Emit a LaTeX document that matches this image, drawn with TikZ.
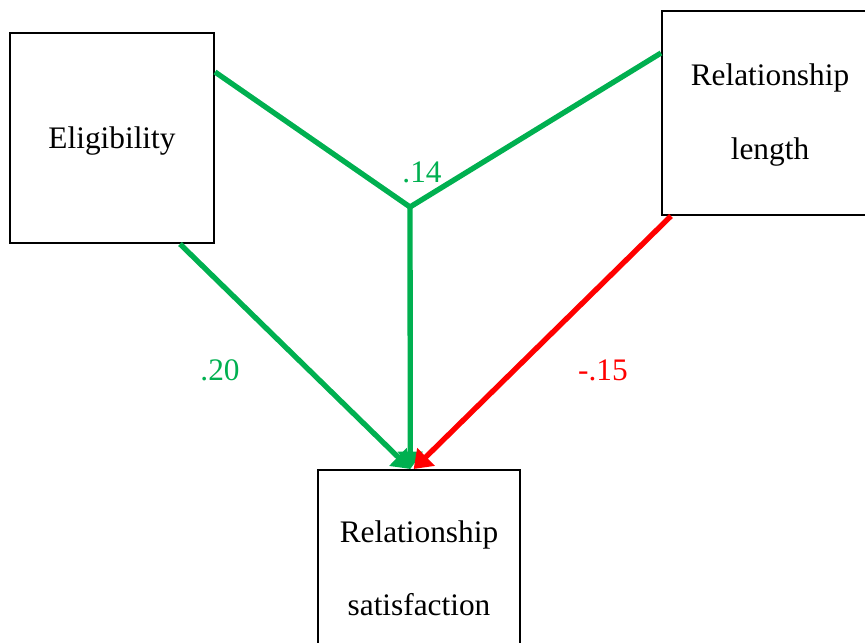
\documentclass[tikz,border=0pt]{standalone}
\usepackage{fontspec}
\setmainfont{Liberation Serif}
\usetikzlibrary{arrows.meta}
\definecolor{pathgreen}{RGB}{0,176,80}
\definecolor{pathred}{RGB}{255,0,0}
\newcommand{\shiftup}[2]{\raisebox{#1}[\height][\depth]{#2}}
\begin{document}
\begin{tikzpicture}[x=0.75pt,y=-0.75pt,
  varbox/.style={draw=black,line width=1.5pt,fill=white,inner sep=0pt,align=center,
    font=\fontsize{23.5}{55}\selectfont},
  path/.style={line width=4pt},
  arr/.style={path,-{Triangle[length=13pt,width=18pt]}},
  coef/.style={font=\fontsize{23.5}{28}\selectfont}]
\useasboundingbox (0,0) rectangle (865,643);
\node[varbox,minimum width=153pt,minimum height=157.5pt] (elig) at (112,138) {\shiftup{-2.2pt}{Eligibility}};
\node[varbox,minimum width=162pt,minimum height=153pt] (rl) at (770,113) {\shiftup{-1.5pt}{Relationship}\\\shiftup{-1.5pt}{length}};
\node[varbox,minimum width=151.5pt,minimum height=150pt] (rs) at (419,570) {\shiftup{1.5pt}{Relationship}\\\shiftup{1.5pt}{satisfaction}};
\coordinate (j) at (410,207);
\draw[path,pathgreen] ([yshift=49.5pt]elig.east) -- (j) -- ([yshift=45pt]rl.west);
\draw[arr,pathgreen] (j) -- ([xshift=-6.5pt]rs.north);
\draw[arr,pathgreen] ([xshift=51pt]elig.south) -- ([xshift=-6.5pt]rs.north);
\draw[arr,pathred] ([xshift=7.5pt]rl.south west) -- ([xshift=-4pt]rs.north);
\node[coef,text=pathgreen] (c14) at (422,172) {.14};
\node[coef,text=pathgreen] (c20) at (220,370) {.20};
\node[coef,text=pathred] (c15) at (603,370) {-.15};
\end{tikzpicture}
\end{document}
